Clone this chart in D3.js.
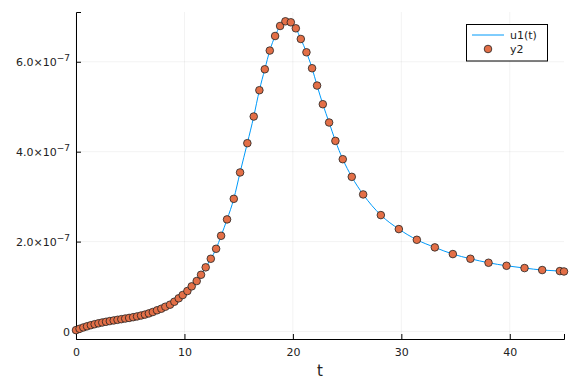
<!DOCTYPE html>
<html><head><meta charset="utf-8">
<script src="https://cdn.jsdelivr.net/npm/d3@7"></script>
<style>body{margin:0;background:#fff;} svg{display:block;}</style>
</head><body>
<svg id="c" width="576" height="384"></svg>
<script>
// data (y in units of 1e-7)
const tVals = [0.0,0.33,0.68,1.02,1.37,1.72,2.07,2.42,2.77,3.12,3.48,3.83,4.18,4.54,4.9,5.27,5.63,6.0,6.36,6.72,
  7.08,7.47,7.87,8.24,8.67,9.07,9.47,9.84,10.27,10.67,11.13,11.53,11.96,12.43,12.92,13.38,13.93,14.55,15.13,15.8,
  16.39,16.91,17.41,17.87,18.36,18.82,19.31,19.81,20.27,20.73,21.25,21.77,22.23,22.76,23.34,23.92,24.6,25.43,26.48,
  28.11,29.77,31.43,33.09,34.75,36.37,38.04,39.7,41.36,42.99,44.62,45.0];
const yVals = [0.03,0.06,0.09,0.115,0.14,0.162,0.182,0.2,0.216,0.232,0.246,0.26,0.274,0.288,0.302,0.318,0.335,0.355,0.376,0.402,
  0.433,0.471,0.507,0.551,0.596,0.662,0.738,0.811,0.9,1.004,1.122,1.262,1.427,1.618,1.84,2.129,2.493,2.951,3.538,4.189,
  4.782,5.367,5.833,6.249,6.573,6.796,6.9,6.878,6.744,6.507,6.211,5.856,5.471,5.056,4.649,4.24,3.833,3.44,3.049,
  2.589,2.278,2.04,1.871,1.722,1.618,1.529,1.462,1.411,1.367,1.344,1.335];
const xTicks = [0,10,20,30,40];
const yTicks = [0,2,4,6];
const yTickMant = ["0","2.0","4.0","6.0"];
const seriesNames = ["u1(t)","y2"];
const colors = ["#009AFA","#E36F47"];

const svg = d3.select("#c");
const L=76, R=564, T=12, B=339;
const x = d3.scaleLinear().domain([0,45]).range([L,R]);
const y = d3.scaleLinear().domain([-0.167,7.107]).range([B,T]);
const font = "DejaVu Sans, sans-serif";

// grid
svg.append("g").selectAll("line.gx").data(xTicks).join("line")
  .attr("x1",d=>x(d)).attr("x2",d=>x(d)).attr("y1",T).attr("y2",B)
  .attr("stroke","#000").attr("stroke-opacity",0.1).attr("stroke-width",0.5);
svg.append("g").selectAll("line.gy").data(yTicks).join("line")
  .attr("x1",L).attr("x2",R).attr("y1",d=>y(d)).attr("y2",d=>y(d))
  .attr("stroke","#000").attr("stroke-opacity",0.1).attr("stroke-width",0.5);

// axes via d3
const xAxis = d3.axisBottom(x).tickValues(xTicks).tickSize(-5).tickPadding(9).tickFormat(d3.format("d"));
const gx = svg.append("g").attr("transform",`translate(0,${B})`).call(xAxis);
gx.select(".domain").attr("stroke","#000").attr("stroke-width",1);
gx.selectAll(".tick line").attr("stroke","#000");
gx.selectAll(".tick text").attr("font-family",font).attr("font-size",11).attr("fill","#222");

const yAxis = d3.axisLeft(y).tickValues(yTicks).tickSize(-5).tickPadding(6).tickFormat("");
const gy = svg.append("g").attr("transform",`translate(${L},0)`).call(yAxis);
gy.select(".domain").attr("stroke","#000").attr("stroke-width",1);
gy.selectAll(".tick line").attr("stroke","#000");
gy.selectAll(".tick").each(function(d,i){
  const t = d3.select(this).append("text").attr("x",-6).attr("y",4)
    .attr("text-anchor","end").attr("font-family",font).attr("font-size",11).attr("fill","#222");
  if (d===0) { t.text("0"); }
  else {
    t.append("tspan").text(yTickMant[i]+"×10");
    t.append("tspan").attr("dy",-5).attr("font-size",9).text("−7");
  }
});

// x label
svg.append("text").attr("x",(L+R)/2).attr("y",376).attr("text-anchor","middle")
  .attr("font-family",font).attr("font-size",15).attr("fill","#222").text("t");

// line
const pts = tVals.map((t,i)=>[t,yVals[i]]);
svg.append("path").datum(pts).attr("fill","none").attr("stroke",colors[0]).attr("stroke-width",1)
  .attr("d",d3.line().x(d=>x(d[0])).y(d=>y(d[1])).curve(d3.curveMonotoneX));

// points
svg.append("g").selectAll("circle").data(pts).join("circle")
  .attr("cx",d=>x(d[0])).attr("cy",d=>y(d[1])).attr("r",3.8)
  .attr("fill",colors[1]).attr("stroke","#222").attr("stroke-width",0.8);

// legend
const lg = svg.append("g");
lg.append("rect").attr("x",466.5).attr("y",24.5).attr("width",81).attr("height",36.5)
  .attr("fill","#fff").attr("stroke","#000").attr("stroke-width",1);
lg.append("line").attr("x1",472).attr("x2",504).attr("y1",35).attr("y2",35)
  .attr("stroke",colors[0]).attr("stroke-width",1);
lg.append("circle").attr("cx",488).attr("cy",49).attr("r",3.8)
  .attr("fill",colors[1]).attr("stroke","#222").attr("stroke-width",0.8);
lg.selectAll("text").data(seriesNames).join("text")
  .attr("x",510).attr("y",(d,i)=>39+i*14).attr("font-family",font).attr("font-size",11).attr("fill","#222")
  .text(d=>d);
</script>
</body></html>
